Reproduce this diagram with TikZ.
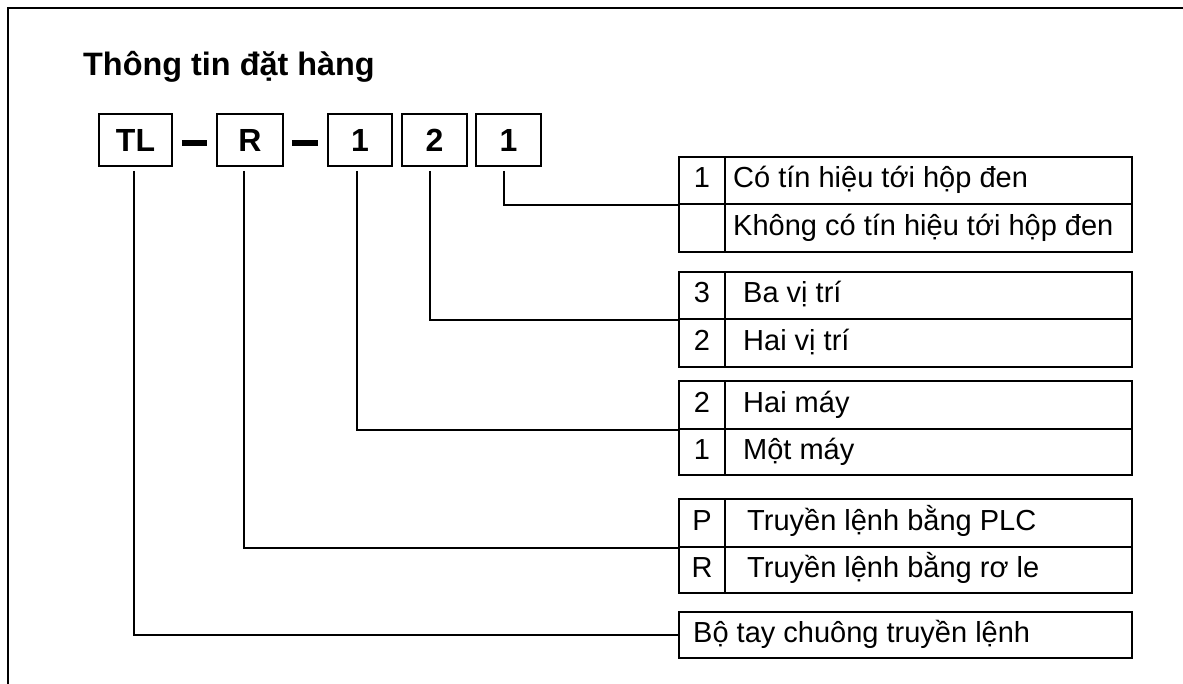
\documentclass[tikz,border=0pt]{standalone}
\usepackage{fontspec}
\setmainfont{Liberation Sans}
\usetikzlibrary{calc}
\tikzset{
  codebox/.style={draw, line width=1.6pt, inner sep=0pt, minimum height=52pt, font=\fontsize{32}{36}\selectfont\bfseries},
  bar/.style={line width=6pt},
  row/.style={draw, line width=1.6pt, inner sep=0pt, minimum width=453pt},
  cell/.style={draw, line width=1.6pt, inner sep=0pt, minimum width=46pt},
  txt/.style={inner sep=0pt, anchor=west, font=\fontsize{29}{32}\selectfont, text height=20pt, text depth=6pt},
  ctxt/.style={inner sep=0pt, font=\fontsize{29}{32}\selectfont, text height=20pt, text depth=6pt},
  conn/.style={line width=1.6pt}
}
\begin{document}
\begin{tikzpicture}[x=1pt,y=-1pt]
\clip (0,0) rectangle (1183,683);
\fill[white] (0,0) rectangle (1183,683);
\draw[line width=1.5pt] (8,720) -- (8,8) -- (1200,8);
\node[anchor=base west, inner sep=0pt, font=\fontsize{32.4}{36}\selectfont\bfseries] (title) at (83,75) {Thông tin đặt hàng};
% code boxes
\node[codebox, minimum width=73pt] (bTL) at (135.5,140) {TL};
\node[codebox, minimum width=66pt] (bR) at (250,140) {R};
\node[codebox, minimum width=64pt] (b1) at (360,140) {1};
\node[codebox, minimum width=65pt] (b2) at (434.5,140) {2};
\node[codebox, minimum width=65pt] (b3) at (508.5,140) {1};
\draw[bar] ($(bTL.east)+(9,2.5)$) -- ($(bR.west)+(-9,2.5)$);
\draw[bar] ($(bR.east)+(8,2.5)$) -- ($(b1.west)+(-9,2.5)$);
% table 1
\node[row, minimum height=47pt] (t1a) at (905.5,180.5) {};
\node[row, minimum height=48pt] (t1b) at (905.5,228) {};
\node[cell, minimum height=47pt, anchor=west] (c1a) at (t1a.west) {};
\node[cell, minimum height=48pt, anchor=west] (c1b) at (t1b.west) {};
\node[ctxt] (k1a) at (c1a) {1};
\node[txt] (x1a) at (733,180.5) {Có tín hiệu tới hộp đen};
\node[txt] (x1b) at (733,228) {Không có tín hiệu tới hộp đen};
% table 2
\node[row, minimum height=47pt] (t2a) at (905.5,295.5) {};
\node[row, minimum height=48pt] (t2b) at (905.5,343) {};
\node[cell, minimum height=47pt, anchor=west] (c2a) at (t2a.west) {};
\node[cell, minimum height=48pt, anchor=west] (c2b) at (t2b.west) {};
\node[ctxt] (k2a) at (c2a) {3};
\node[ctxt] (k2b) at (c2b) {2};
\node[txt] (x2a) at (743,295.5) {Ba vị trí};
\node[txt] (x2b) at (743,343) {Hai vị trí};
% table 3
\node[row, minimum height=48pt] (t3a) at (905.5,405) {};
\node[row, minimum height=46pt] (t3b) at (905.5,452) {};
\node[cell, minimum height=48pt, anchor=west] (c3a) at (t3a.west) {};
\node[cell, minimum height=46pt, anchor=west] (c3b) at (t3b.west) {};
\node[ctxt] (k3a) at (c3a) {2};
\node[ctxt] (k3b) at (c3b) {1};
\node[txt] (x3a) at (743,405) {Hai máy};
\node[txt] (x3b) at (743,452) {Một máy};
% table 4
\node[row, minimum height=48pt] (t4a) at (905.5,523) {};
\node[row, minimum height=46pt] (t4b) at (905.5,570) {};
\node[cell, minimum height=48pt, anchor=west] (c4a) at (t4a.west) {};
\node[cell, minimum height=46pt, anchor=west] (c4b) at (t4b.west) {};
\node[ctxt] (k4a) at (c4a) {P};
\node[ctxt] (k4b) at (c4b) {R};
\node[txt] (x4a) at (747,523) {Truyền lệnh bằng PLC};
\node[txt] (x4b) at (747,570) {Truyền lệnh bằng rơ le};
% table 5
\node[row, minimum height=46pt] (t5) at (905.5,635) {};
\node[txt] (x5) at (693,635) {Bộ tay chuông truyền lệnh};
% connectors
\draw[conn] ($(b3.south)+(-4.5,4)$) |- (t1a.south west);
\draw[conn] ($(b2.south)+(-4.5,4)$) |- (t2a.south west);
\draw[conn] ($(b1.south)+(-3,4)$) |- (t3a.south west);
\draw[conn] ($(bR.south)+(-6,4)$) |- (t4a.south west);
\draw[conn] ($(bTL.south)+(-1.5,4)$) |- (t5.west);
\end{tikzpicture}
\end{document}
